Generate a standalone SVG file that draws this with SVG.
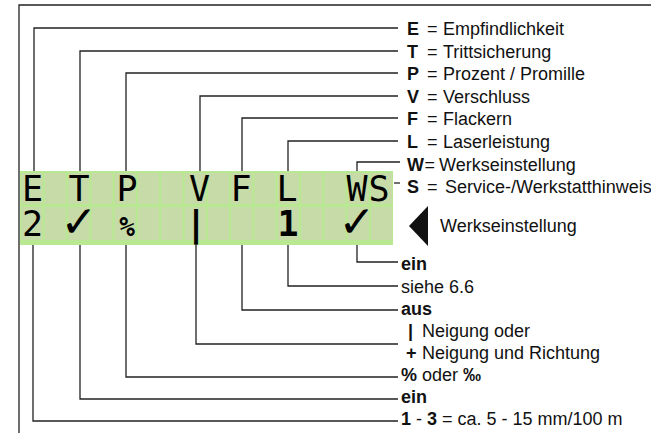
<svg xmlns="http://www.w3.org/2000/svg" width="651" height="435" viewBox="0 0 651 435">
<style>
.ln{fill:none;stroke:#222;stroke-width:1.3}
.t{font-family:"Liberation Sans",Arial,sans-serif;font-size:18px;fill:#111}
.b{font-weight:bold}
.lcd{font-family:"DejaVu Sans Mono","DejaVu Sans",monospace;font-size:35px;fill:#000;text-anchor:middle}
.chk{font-family:"DejaVu Sans",sans-serif;font-size:44px;fill:#000;text-anchor:middle}
.cell{fill:#c7dba9}
</style>
<rect width="651" height="435" fill="#fff"/>
<g id="frame">
<path class="ln" d="M19,433 V5 H651"/>
</g>
<g id="lcd">
<rect x="20" y="171" width="373" height="74" fill="#b9e893"/>
<g id="cells">
<rect class="cell" x="21.5" y="173" width="21" height="31"/><rect class="cell" x="44.8" y="173" width="21" height="31"/><rect class="cell" x="68.1" y="173" width="21" height="31"/><rect class="cell" x="91.4" y="173" width="21" height="31"/><rect class="cell" x="114.7" y="173" width="21" height="31"/><rect class="cell" x="138" y="173" width="21" height="31"/><rect class="cell" x="161.3" y="173" width="21" height="31"/><rect class="cell" x="184.6" y="173" width="21" height="31"/><rect class="cell" x="207.9" y="173" width="21" height="31"/><rect class="cell" x="231.2" y="173" width="21" height="31"/><rect class="cell" x="254.5" y="173" width="21" height="31"/><rect class="cell" x="277.8" y="173" width="21" height="31"/><rect class="cell" x="301.1" y="173" width="21" height="31"/><rect class="cell" x="324.4" y="173" width="21" height="31"/><rect class="cell" x="347.7" y="173" width="21" height="31"/><rect class="cell" x="371" y="173" width="21" height="31"/>
<rect class="cell" x="21.5" y="207" width="21" height="33"/><rect class="cell" x="44.8" y="207" width="21" height="33"/><rect class="cell" x="68.1" y="207" width="21" height="33"/><rect class="cell" x="91.4" y="207" width="21" height="33"/><rect class="cell" x="114.7" y="207" width="21" height="33"/><rect class="cell" x="138" y="207" width="21" height="33"/><rect class="cell" x="161.3" y="207" width="21" height="33"/><rect class="cell" x="184.6" y="207" width="21" height="33"/><rect class="cell" x="207.9" y="207" width="21" height="33"/><rect class="cell" x="231.2" y="207" width="21" height="33"/><rect class="cell" x="254.5" y="207" width="21" height="33"/><rect class="cell" x="277.8" y="207" width="21" height="33"/><rect class="cell" x="301.1" y="207" width="21" height="33"/><rect class="cell" x="324.4" y="207" width="21" height="33"/><rect class="cell" x="347.7" y="207" width="21" height="33"/><rect class="cell" x="371" y="207" width="21" height="33"/>
</g>
<g id="row1">
<text class="lcd" x="32.5" y="201">E</text>
<text class="lcd" x="79" y="201">T</text>
<text class="lcd" x="127" y="201">P</text>
<text class="lcd" x="199.5" y="201">V</text>
<text class="lcd" x="241" y="201">F</text>
<text class="lcd" x="287" y="201">L</text>
<text class="lcd" x="357" y="201">W</text>
<text class="lcd" x="379" y="201">S</text>
</g>
<g id="row2">
<text class="lcd" x="32.5" y="236">2</text>
<text class="chk" x="79" y="237">✓</text>
<text class="lcd b" x="127" y="236" style="font-size:26px">%</text>
<text class="lcd b" x="196" y="236">|</text>
<text class="lcd b" x="288" y="236">1</text>
<text class="chk" x="357" y="237">✓</text>
</g>
</g>
<g id="connectors">
<path class="ln" d="M34,171 V28 H398"/>
<path class="ln" d="M80,171 V51 H398"/>
<path class="ln" d="M126,171 V73 H398"/>
<path class="ln" d="M200,171 V96 H398"/>
<path class="ln" d="M242,171 V118 H398"/>
<path class="ln" d="M288,171 V141 H398"/>
<path class="ln" d="M357,171 V162 H400"/>
<path class="ln" d="M394,183 H400"/>
<path class="ln" d="M357,245 V262 H398"/>
<path class="ln" d="M288,245 V286 H398"/>
<path class="ln" d="M242,245 V310 H398"/>
<path class="ln" d="M196,245 V344 H398"/>
<path class="ln" d="M126,245 V377 H398"/>
<path class="ln" d="M80,245 V399 H398"/>
<path class="ln" d="M33,245 V421 H398"/>
</g>
<g id="legend-top">
<text class="t" y="35"><tspan class="b" x="407">E</tspan><tspan x="427">=</tspan><tspan x="443">Empfindlichkeit</tspan></text>
<text class="t" y="58"><tspan class="b" x="407">T</tspan><tspan x="427">=</tspan><tspan x="443">Trittsicherung</tspan></text>
<text class="t" y="80"><tspan class="b" x="407">P</tspan><tspan x="427">=</tspan><tspan x="443">Prozent / Promille</tspan></text>
<text class="t" y="103"><tspan class="b" x="407">V</tspan><tspan x="427">=</tspan><tspan x="443">Verschluss</tspan></text>
<text class="t" y="125"><tspan class="b" x="407">F</tspan><tspan x="427">=</tspan><tspan x="443">Flackern</tspan></text>
<text class="t" y="148"><tspan class="b" x="407">L</tspan><tspan x="427">=</tspan><tspan x="443">Laserleistung</tspan></text>
<text class="t" y="171"><tspan class="b" x="407">W</tspan><tspan x="424.5">=</tspan><tspan x="439">Werkseinstellung</tspan></text>
<text class="t" y="193"><tspan class="b" x="407">S</tspan><tspan x="427">=</tspan><tspan x="445">Service-/Werkstatthinweis</tspan></text>
</g>
<g id="default-marker">
<polygon points="409,226 428,206 428,246" fill="#111"/>
<text class="t" x="440" y="232">Werkseinstellung</text>
</g>
<g id="legend-bottom">
<text class="t b" x="401" y="270">ein</text>
<text class="t" x="401" y="293">siehe 6.6</text>
<text class="t b" x="401" y="315">aus</text>
<text class="t" y="337"><tspan class="b" x="408">|</tspan><tspan x="422">Neigung oder</tspan></text>
<text class="t" y="359"><tspan class="b" x="406">+</tspan><tspan x="422">Neigung und Richtung</tspan></text>
<text class="t" y="381"><tspan class="b" x="401">%</tspan><tspan> oder </tspan><tspan class="b">‰</tspan></text>
<text class="t b" x="401" y="403">ein</text>
<text class="t" x="401" y="425"><tspan class="b">1</tspan> - <tspan class="b">3</tspan> = ca. 5 - 15 mm/100 m</text>
</g>
</svg>
